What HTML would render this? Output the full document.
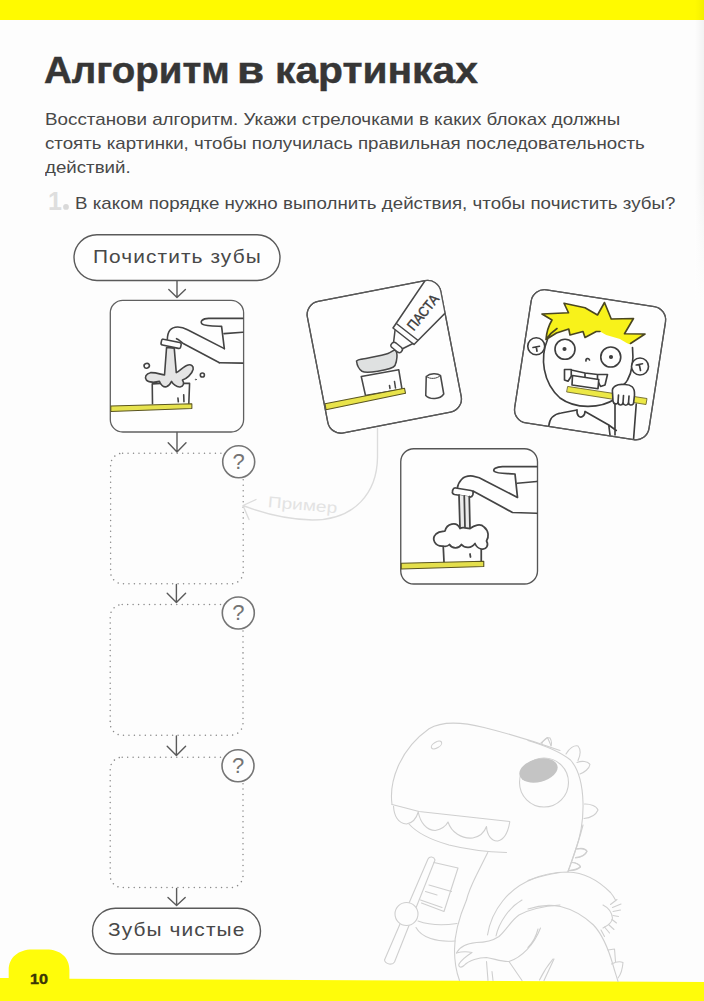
<!DOCTYPE html>
<html lang="ru"><head><meta charset="utf-8"><title>Алгоритм в картинках</title>
<style>
html,body{margin:0;padding:0;}
body{width:704px;height:1001px;position:relative;overflow:hidden;background:#fdfdfd;font-family:"Liberation Sans",sans-serif;color:#484848;}
.t{position:absolute;white-space:nowrap;transform-origin:0 0;line-height:1;}
#art{position:absolute;left:0;top:0;}
.tt{font-size:36.5px;font-weight:bold;color:#363636;-webkit-text-stroke:0.45px #363636;}
</style></head>
<body>
<svg id="art" width="704" height="1001" viewBox="0 0 704 1001">
<!-- BARS -->
<defs><linearGradient id="gut" x1="0" y1="0" x2="1" y2="0"><stop offset="0" stop-color="#000" stop-opacity="0"/><stop offset="1" stop-color="#000" stop-opacity="0.045"/></linearGradient>
<linearGradient id="gutv" x1="0" y1="0" x2="0" y2="1"><stop offset="0" stop-color="#fff" stop-opacity="0"/><stop offset="1" stop-color="#fdfdfd" stop-opacity="1"/></linearGradient></defs>
<rect x="0" y="0" width="704" height="20" fill="#fffa00"/>
<path d="M0 978 H8.7 V970 C8.7 957 19 949.4 32 949.4 H46.5 C60 949.4 69.4 957 69.4 970 V978.8 L704 982 V1001 H0 Z" fill="#fffc0a"/>
<rect x="695" y="0" width="9" height="300" fill="url(#gut)"/><rect x="695" y="180" width="9" height="121" fill="url(#gutv)"/>
<!-- FLOW -->
<g id="flow" fill="none" stroke="#5a5a5a" stroke-width="1.4" stroke-linecap="round" stroke-linejoin="round">
<rect x="74" y="234.7" width="206" height="45.8" rx="22.9" fill="#fefefe"/>
<rect x="92.5" y="908.2" width="168" height="45.8" rx="22.9" fill="#fefefe"/>
<rect x="110.3" y="300.3" width="133.3" height="131.7" rx="12.5" fill="#fefefe" stroke="#606060" stroke-width="1.3"/>
<!-- arrows -->
<path d="M177 281 V297.3 M168.8 289.6 L177 297.6 L185.4 289.6"/>
<path d="M177 432.5 V451.6 M168.2 442.8 L177 452 L186 442.8"/>
<path d="M176.4 584.5 V602 M167.2 593.2 L176.4 602.4 L185.6 593.2"/>
<path d="M176.4 736 V755 M167.2 746.2 L176.4 755.4 L185.6 746.2"/>
<path d="M176.6 888.5 V905.3 M168 897.6 L176.6 905.6 L185.2 897.6"/>
</g>
<g id="dots" fill="none" stroke="#8a8a8a" stroke-width="1.5" stroke-linecap="round" stroke-dasharray="0.01 5.45">
<rect x="110.6" y="453.2" width="132.6" height="130.6" rx="12"/>
<rect x="110.2" y="604.6" width="132.8" height="130.6" rx="12"/>
<rect x="110.2" y="757.2" width="132.8" height="130.4" rx="12"/>
</g>
<g id="qs" fill="#fefefe" stroke="#757575" stroke-width="1.6">
<circle cx="238.7" cy="461.8" r="16"/>
<circle cx="238.3" cy="613" r="16"/>
<circle cx="238" cy="765.8" r="16"/>
</g>
<!-- PICS -->
<circle cx="66" cy="206.9" r="2.9" fill="#d9d9d9"/>
<!-- faucet 1 : zoom coords offset(100,290) scale 4.4 -->
<g id="f1" transform="translate(100 290) scale(0.2272727)" fill="none" stroke="#444" stroke-width="7.2" stroke-linecap="round" stroke-linejoin="round">
 <path d="M628 125 L478 125 C450 125 438 140 450 150 C460 158 478 158 535 160 L547 258" />
 <path d="M546 192 L628 186 M628 322 L525 320"/>
</g>
<g id="f1b" transform="translate(130 320) scale(0.127841)" fill="none" stroke="#444" stroke-width="12.5" stroke-linecap="round" stroke-linejoin="round">
 <path d="M738 224 L450 76 C400 48 340 46 312 80 C296 100 293 125 292 150"/>
 <path d="M700 334 L420 186 L376 152 L364 146"/>
 <path d="M176 655 L174 500 L240 496 M420 496 L466 496 L460 655 M375 610 L378 640 M420 585 L422 640"/>
 <path d="M286 215 L270 430 C240 425 200 410 160 412 C125 418 112 450 128 470 C145 492 200 488 230 480 C240 505 262 528 285 522 C305 516 318 495 325 480 C335 500 362 526 392 524 C418 520 428 495 410 470 C440 462 485 425 494 385 C498 360 478 346 455 352 C420 362 392 395 362 412 L346 220 Z" fill="#e5e5e5"/>
 <path d="M262 150 L388 176 C398 178 402 186 400 194 L396 212 C394 221 387 224 378 222 L254 196 C245 194 241 188 243 179 L247 161 C249 152 254 148 262 150 Z" fill="#fefefe"/>
 <path d="M-150 673 L484 655 L484 692 L-150 716 Z" fill="#e6e24e" stroke="#5a5520" stroke-width="8"/>
 <ellipse cx="131" cy="358" rx="21" ry="18" transform="rotate(-20 131 358)"/><circle cx="566" cy="430" r="16"/><circle cx="515" cy="466" r="4" stroke-width="6"/>
</g>
<!-- faucet 2 : offset(385,432) scale 4 -->
<g id="f2" transform="translate(385 432) scale(0.25)" fill="none" stroke="#444" stroke-width="7" stroke-linecap="round" stroke-linejoin="round">
 <rect x="63" y="67" width="547" height="541" rx="52" fill="#fefefe" stroke="#555" stroke-width="5.4"/>
 <path d="M607 138 L470 138 C445 138 428 150 438 158 C446 166 470 165 520 168 L530 262 L402 196 C372 176 330 166 306 190 C296 200 291 212 289 226"/>
 <path d="M529 205 L607 198 M607 325 L510 322 L352 236"/>
 <path d="M283 224 L344 234 C352 236 354 241 352 247 L351 252 C349 258 345 261 338 260 L278 250 C271 248 268 243 270 237 L271 232 C273 226 277 223 283 224 Z" fill="#fefefe"/>
 <path d="M296 252 L300 388 L340 388 L337 258 Z" fill="#ebebeb" stroke="none"/>
 <path d="M296 252 L300 385 M337 258 L340 385 M317 256 L320 382"/>
 <path d="M233 458 L236 520 M385 468 L385 518 M340 488 L342 500"/>
 <path d="M232 456 C200 458 184 428 204 408 C220 394 236 400 240 396 C246 368 286 354 300 386 C312 378 326 386 340 386 C356 374 382 364 396 380 C416 396 416 420 406 436 C416 452 406 472 386 468 C374 466 364 456 360 446 C346 466 320 466 306 450 C296 466 270 470 258 450 C250 458 240 458 232 456 Z" fill="#fefefe"/>
 <path d="M65 525 L395 517 L395 538 L65 548 Z" fill="#e4df4c" stroke="#5a5520" stroke-width="4.5"/>
</g>
<!-- pasta : offset(300,265) scale 4 -->
<defs>
<clipPath id="cpP"><rect x="65.4" y="99.2" width="543.6" height="536" rx="54" transform="rotate(-11 337.2 367.2)"/></clipPath>
<clipPath id="cpB"><rect x="48.4" y="89.6" width="543.9" height="538.8" rx="54" transform="rotate(8.8 320.4 359)"/></clipPath>
</defs>
<g id="pa" transform="translate(300 265) scale(0.25)" fill="none" stroke="#484848" stroke-width="6.2" stroke-linecap="round" stroke-linejoin="round">
 <rect x="65.4" y="99.2" width="543.6" height="536" rx="54" transform="rotate(-11 337.2 367.2)" fill="#fefefe" stroke="#585858" stroke-width="5.2"/>
 <g clip-path="url(#cpP)">
  <path d="M245 446 L395 419 L408 497 L262 522 Z" fill="#fefefe"/>
  <path d="M358 482 L360 494 M378 466 L382 492"/>
  <path d="M100 555 L418 493 L422 513 L104 579 Z" fill="#e8e34a" stroke="#5a5520" stroke-width="4.5"/>
  <path d="M226 384 C235 376 245 378 250 376 C290 368 330 362 352 354 C368 348 376 336 382 342 C392 352 388 384 380 402 C372 414 340 420 316 424 C290 428 262 433 248 425 C236 417 228 400 226 384 Z" fill="#dfe1e1"/>
  <path d="M372 252 L540 4 L660 112 L456 318 Z" fill="#fefefe"/>
  <path d="M388 236 L470 300"/>
  <path d="M380 262 L374 312 M452 314 L404 338" />
  <path d="M366 316 C370 308 378 308 384 312 L406 330 C412 336 410 342 406 346 C402 352 396 352 390 348 L368 330 C362 326 362 320 366 316 Z" fill="#fefefe"/>
  <text x="0" y="0" transform="translate(455 266) rotate(-51)" font-family="Liberation Sans, sans-serif" font-size="57" fill="#3c3c3c" stroke="#3c3c3c" stroke-width="1.6" textLength="166" lengthAdjust="spacingAndGlyphs">ПАСТА</text>
 </g>
 <path d="M505 446 C520 432 550 432 562 442 L575 516 C560 538 520 540 503 522 Z" fill="#fefefe"/>
 <path d="M505 446 C520 458 548 456 562 442" stroke-width="4"/>
 <rect x="65.4" y="99.2" width="543.6" height="536" rx="54" transform="rotate(-11 337.2 367.2)" stroke="#585858" stroke-width="5.2"/>
</g>
<!-- boy : offset(510,275) scale 4 -->
<g id="boy" transform="translate(510 275) scale(0.25)" fill="none" stroke="#3e3e3e" stroke-width="6.6" stroke-linecap="round" stroke-linejoin="round">
 <rect x="48.4" y="89.6" width="543.9" height="538.8" rx="54" transform="rotate(8.8 320.4 359)" fill="#fefefe" stroke="#585858" stroke-width="5.2"/>
 <g clip-path="url(#cpB)">
  <!-- body -->
  <path d="M155 604 C158 575 175 556 205 552 L268 540 M300 546 L395 600 L425 622 M420 505 L420 640 M505 516 L494 660 M395 600 L400 640"/>
  <path d="M268 540 C266 565 280 572 290 566 C300 560 300 548 300 546" fill="#fefefe"/>
  <!-- head -->
  <path d="M150 258 C120 330 130 430 200 492 C260 536 360 536 420 496 M490 290 C494 330 492 380 470 420 C466 428 460 434 455 438"/>
  <!-- ears -->
  <circle cx="105" cy="285" r="34" fill="#fefefe"/><path d="M92 290 L118 285 M105 287 L108 305"/>
  <circle cx="520" cy="366" r="34" fill="#fefefe"/><path d="M505 360 L530 355 M517 358 L522 382"/>
  <!-- eyes -->
  <circle cx="220" cy="297" r="40" fill="#fefefe"/><circle cx="218" cy="296" r="5" fill="#3e3e3e"/>
  <circle cx="403" cy="328" r="40" fill="#fefefe"/><circle cx="404" cy="328" r="5" fill="#3e3e3e"/>
  <path d="M304 344 C302 334 314 330 318 340"/>
  <!-- teeth -->
  <path d="M218 378 L245 378 L245 405 L232 425 L218 420 Z M245 380 L300 392 L300 410 M300 392 L350 398 L390 398 L380 440 L362 446 L350 420 L350 398" fill="#fefefe"/>
  <path d="M250 402 L355 418 L352 455 L248 440 Z" fill="#fefefe"/>
  <!-- brush handle -->
  <path d="M232 446 L548 494 L544 518 L228 468 Z" fill="#ece846" stroke="#6a6428" stroke-width="3.5"/>
  <!-- hand -->
  <path d="M410 470 C405 445 430 436 455 438 C485 436 500 450 498 480 L494 515 C486 524 476 520 474 512 C470 524 456 524 452 512 C448 524 434 522 432 510 C428 520 414 516 412 505 Z" fill="#fefefe"/>
  <path d="M432 510 L434 480 M452 512 L454 482 M474 512 L476 484"/>
  <!-- hair -->
  <path d="M128 156 L234 151 L216 113 L300 131 L350 160 L378 110 L405 176 L494 174 L458 235 L540 236 L478 277 C462 270 450 262 440 256 L385 240 L360 226 L345 226 L300 250 L292 226 L240 240 L235 216 L186 232 L144 258 C146 230 156 200 168 180 Z" fill="#f8f21a" stroke="none"/>
  <path d="M144 258 C146 230 156 200 168 180 L128 156 L234 151 L216 113 L300 131 L350 160 L378 110 L405 176 L494 174 L458 235 L540 236 L482 274 M144 258 L186 232 L235 216 L240 240 L292 226 L300 250 L345 226 L360 226 M144 258 C156 240 170 226 188 214" stroke="#4a4620"/>
 </g>
 <rect x="48.4" y="89.6" width="543.9" height="538.8" rx="54" transform="rotate(8.8 320.4 359)" stroke="#585858" stroke-width="5.2"/>
</g>
<!-- primer arrow : offset(230,420) scale 4 -->
<g id="pr" transform="translate(230 420) scale(0.25)" fill="none" stroke="#dcdcdc" stroke-width="5.5" stroke-linecap="round" stroke-linejoin="round">
 <path d="M590 32 L590 150 C588 290 500 400 330 400 C230 398 130 372 54 343 M104 318 L52 342 L76 398"/>
 <text x="0" y="0" transform="translate(150 348) rotate(5)" font-family="Liberation Sans, sans-serif" font-size="62" fill="#e3e3e3" stroke="none" textLength="278" lengthAdjust="spacingAndGlyphs">Пример</text>
</g>
<!-- DINO : A offset(384,720) -->
<g id="dino" fill="none" stroke="#cfcfcf" stroke-width="4.4" stroke-linecap="round" stroke-linejoin="round">
<g transform="translate(384 720) scale(0.25)">
 <path d="M32 338 C20 250 60 120 180 35 C230 5 300 5 400 30 C480 50 600 85 704 122"/>
 <ellipse cx="210" cy="100" rx="23" ry="12" transform="rotate(-30 210 100)"/>
 <path d="M32 338 C80 350 110 358 140 366 L503 406"/>
 <path d="M38 345 C40 380 55 415 90 416 C115 412 130 392 137 368 C145 410 170 442 205 442 C232 436 248 424 256 408 C270 450 310 476 355 472 C385 466 402 448 410 426 C412 460 430 486 455 484 C480 478 496 450 503 408"/>
 <path d="M100 416 C130 450 190 480 260 500 C340 520 420 528 490 530"/>
 <path d="M415 530 C400 560 385 590 370 620 C355 650 340 680 330 720"/>
 <circle cx="640" cy="250" r="98"/>
 <ellipse cx="618" cy="202" rx="78" ry="46" transform="rotate(-14 618 202)" fill="#c4c4c4" stroke="none"/>
 <path d="M628 92 L654 70 L668 102"/>
</g>
<g transform="translate(528 720) scale(0.25)">
 <path d="M0 82 C60 100 120 120 170 160 C205 200 218 260 220 330 C222 400 212 460 190 520 C180 550 170 580 160 606"/>
 <path d="M55 96 C60 80 75 68 88 72 C94 82 95 95 92 104 M152 136 C165 112 185 100 200 104 C212 118 210 140 200 162 M196 170 C215 162 240 165 248 178 C245 195 225 210 208 216 M226 336 C250 335 275 345 280 360 C272 378 250 392 224 394 M196 516 C215 510 232 515 236 526 C230 540 210 550 190 552 M176 570 C190 570 206 578 210 588 C200 598 185 602 166 602"/>
</g>
<g transform="translate(384 825) scale(0.25)">
 <path d="M176 136 C182 124 200 126 204 140 L42 548 C34 562 6 558 2 540 Z"/>
 <path d="M200 150 L296 172 L240 346 L150 312"/>
 <path d="M180 240 L270 266 M166 266 L212 280 M146 300 L232 330"/>
 <circle cx="90" cy="356" r="46" fill="#fdfdfd"/>
 <path d="M136 384 C180 400 240 402 292 394 M128 410 C150 450 210 470 284 464"/>
 <path d="M330 300 C300 370 282 440 282 500 C282 550 290 590 302 622"/>
 <path d="M414 440 C430 340 500 250 600 214 C640 200 680 194 704 190 M448 444 C460 390 500 330 552 300"/>
 <path d="M290 512 C300 490 330 474 370 470 C400 470 430 466 460 446 C490 420 510 380 540 360 C590 332 650 324 704 320"/>
 <path d="M290 512 C310 506 335 506 352 510 C330 524 310 540 300 556 C296 570 310 572 320 562 C340 540 380 530 410 530 C440 534 470 548 500 546 C550 530 600 480 626 412"/>
 <path d="M410 546 L416 622 M432 586 L436 622 M500 546 L552 622 M640 622 L680 536"/>
</g>
<g transform="translate(528 825) scale(0.25)">
 <path d="M0 222 C50 200 110 188 160 188 C220 190 280 220 330 270 C340 282 346 292 350 300"/>
 <path d="M0 336 C40 322 90 318 130 326 C180 338 230 370 262 400 C290 430 320 490 340 560 C348 590 356 610 360 626"/>
 <path d="M300 320 C320 330 335 350 338 372 C336 390 325 400 300 412"/>
 <path d="M330 318 L356 298 M338 330 L372 316 M340 346 L370 340 M340 362 L362 366 M336 378 L354 392 M322 398 L344 418 M306 408 L326 432 M292 420 L306 446"/>
 <path d="M320 500 L346 496 L350 546 M334 556 C350 548 370 546 380 550 C378 575 370 600 360 612"/>
 <path d="M190 96 C210 92 230 96 236 104 C230 118 210 128 190 130 M176 150 C190 150 206 158 210 166 C200 176 185 180 166 182 M220 0 C210 40 196 90 160 186"/>
 <path d="M46 620 C60 590 80 560 100 536 M0 490 C20 470 34 440 40 416"/>
</g>
</g>

</svg>
<div class="t tt" id="ta" style="transform:scaleX(1.054);left:44.1px;top:53.4px;">Алгоритм</div>
<div class="t tt" id="tb" style="transform:scaleX(1.21);left:236.5px;top:53.4px;">в</div>
<div class="t tt" id="tc" style="transform:scaleX(1.117);left:275.4px;top:53.4px;">картинках</div>
<div class="t" id="l1" style="transform:scaleX(1.1055);left:44.6px;top:110.8px;font-size:17px;">Восстанови алгоритм. Укажи стрелочками в каких блоках должны</div>
<div class="t" id="l2" style="transform:scaleX(1.0995);left:44.6px;top:135.1px;font-size:17px;">стоять картинки, чтобы получилась правильная последовательность</div>
<div class="t" id="l3" style="transform:scaleX(1.1);left:44.6px;top:159.4px;font-size:17px;">действий.</div>
<div class="t" id="n1" style="left:48px;top:188.8px;font-size:25px;font-weight:bold;color:#dedede;">1</div>
<div class="t" id="q1" style="transform:scaleX(1.102);left:75px;top:194.6px;font-size:17px;">В каком порядке нужно выполнить действия, чтобы почистить зубы?</div>
<div class="t" id="p1" style="transform:scaleX(1.0975);letter-spacing:1px;left:92.5px;top:247.4px;font-size:19px;">Почистить зубы</div>
<div class="t" id="p2" style="transform:scaleX(1.10);letter-spacing:1px;left:108.4px;top:920.2px;font-size:19px;">Зубы чистые</div>
<div class="t" id="pg" style="transform:scaleX(1.08);left:29.5px;top:971.3px;font-size:15px;font-weight:bold;color:#3a3605;-webkit-text-stroke:0.4px #3a3605;">10</div>
<div class="t qm" id="qm1" style="left:232.6px;top:451.1px;font-size:22px;color:#747474;">?</div>
<div class="t qm" id="qm2" style="left:232.2px;top:602.3px;font-size:22px;color:#747474;">?</div>
<div class="t qm" id="qm3" style="left:231.9px;top:755.1px;font-size:22px;color:#747474;">?</div>
</body></html>
